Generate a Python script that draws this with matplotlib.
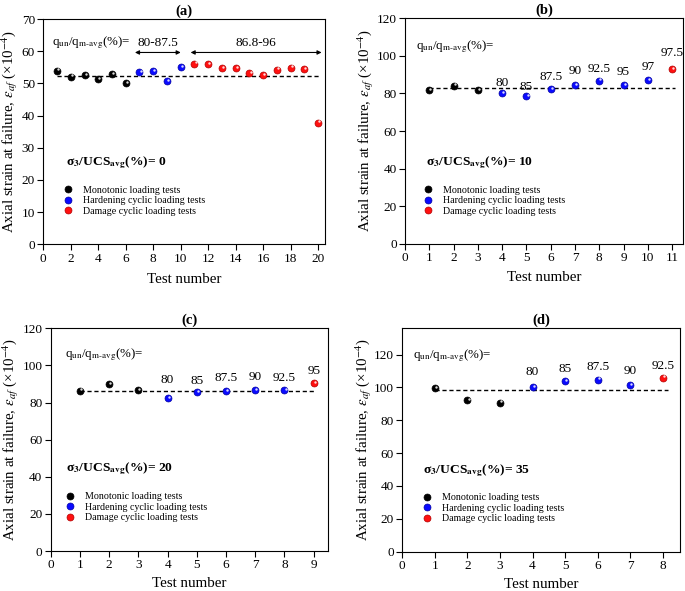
import matplotlib
matplotlib.use("Agg")
import matplotlib.pyplot as plt
from matplotlib.lines import Line2D
import matplotlib.transforms as mtransforms

plt.rcParams['font.family'] = ['Liberation Serif', 'DejaVu Serif']
plt.rcParams['mathtext.fontset'] = 'stix'

# ---------------- data ----------------
# (a) sigma3/UCS = 0
a_x = list(range(1, 21))
a_y = [53.95, 52.1, 52.5, 51.3, 52.9, 50.0, 53.5, 53.7, 50.8, 55.0,
       56.1, 56.0, 54.8, 54.8, 53.1, 52.6, 54.3, 54.9, 54.5, 37.8]
a_type = ['m'] * 6 + ['h'] * 4 + ['d'] * 10
a_mean = 52.3

# (b) sigma3/UCS = 10
b_x = list(range(1, 12))
b_y = [81.8, 84.1, 81.8, 80.2, 78.5, 82.2, 84.5, 86.8, 84.3, 87.0, 92.8]
b_type = ['m'] * 3 + ['h'] * 7 + ['d']
b_mean = 82.8
b_labels = ['80', '85', '87.5', '90', '92.5', '95', '97', '97.5']
b_label_y = [85.4, 83.3, 88.6, 91.8, 92.8, 91.6, 94.3, 101.4]

# (c) sigma3/UCS = 20
c_x = list(range(1, 10))
c_y = [86.4, 89.8, 86.7, 82.3, 85.5, 86.0, 86.6, 86.8, 90.4]
c_type = ['m'] * 3 + ['h'] * 5 + ['d']
c_mean = 86.4
c_labels = ['80', '85', '87.5', '90', '92.5', '95']
c_label_y = [92.1, 91.6, 93.0, 93.9, 93.0, 97.0]

# (d) sigma3/UCS = 35
d_x = list(range(1, 9))
d_y = [99.6, 92.3, 90.7, 100.2, 103.9, 104.7, 101.4, 105.9]
d_type = ['m'] * 3 + ['h'] * 4 + ['d']
d_mean = 98.2
d_labels = ['80', '85', '87.5', '90', '92.5']
d_label_y = [109.3, 111.2, 112.2, 109.8, 112.8]

colors = {'m': '#000000', 'h': '#0a0aff', 'd': '#ff1010'}
edge = {'m': '#000000', 'h': '#0000a0', 'd': '#b00000'}
leg_names = ['Monotonic loading tests', 'Hardening cyclic loading tests',
             'Damage cyclic loading tests']

fig = plt.figure(figsize=(6.85, 5.91), dpi=100)

positions = {
    'a': [43.3 / 685, (591 - 244.3) / 591, (325 - 43.3) / 685, (244.3 - 19) / 591],
    'b': [405 / 685, (591 - 243.7) / 591, (683 - 405) / 685, (243.7 - 18.3) / 591],
    'c': [50.7 / 685, (591 - 551) / 591, (328.3 - 50.7) / 685, (551 - 328.3) / 591],
    'd': [402.3 / 685, (591 - 551.7) / 591, (680 - 402.3) / 685, (551.7 - 328.3) / 591],
}

ylabel = r'Axial strain at failure, $\varepsilon_{af}$ (×10$^{-4}$)'
qtext = r'q$_{\mathrm{un}}$/q$_{\mathrm{m\text{-}avg}}$(%)='

FS_TICK = 9.5
FS_ANN = 9.5
FS_LAB = 10.8


def spheres(ax, xs, ys, types, size=25):
    for t in ['m', 'h', 'd']:
        px = [x for x, tt in zip(xs, types) if tt == t]
        py = [y for y, tt in zip(ys, types) if tt == t]
        if not px:
            continue
        ax.scatter(px, py, s=size, color=colors[t], edgecolors=edge[t],
                   linewidths=0.5, zorder=3)
        off = mtransforms.offset_copy(ax.transData, fig=fig, x=0.8, y=0.9,
                                      units='points')
        ax.scatter(px, py, s=size * 0.12, color='white', alpha=0.85,
                   linewidths=0, zorder=4, transform=off)


def setup(ax, key, xlim, ylim, xticks, yticks, mean, xs, ys, types,
          line_end, sig, qpos, sigpos, legpos, ylab_x, xlab_y):
    spheres(ax, xs, ys, types)
    ax.plot([xs[0], line_end], [mean, mean], ls=(0, (3, 2)), color='black',
            lw=1.0, zorder=2)
    ax.set_xlim(*xlim)
    ax.set_ylim(*ylim)
    ax.set_xticks(xticks)
    ax.set_yticks(yticks)
    ax.tick_params(direction='out', length=4, width=0.8, labelsize=FS_TICK,
                   top=False, right=False, pad=2)
    for s in ax.spines.values():
        s.set_linewidth(0.8)
    ax.set_xlabel('Test number', fontsize=FS_LAB, va='center')
    ax.xaxis.set_label_coords(0.5, xlab_y)
    ax.set_ylabel(ylabel, fontsize=FS_LAB, va='center')
    ax.yaxis.set_label_coords(ylab_x, 0.5)
    ax.set_title('(' + key + ')', fontsize=10.5, fontweight='bold', pad=3)
    ax.text(qpos[0], qpos[1], qtext, transform=ax.transAxes, fontsize=9.3,
            ha='left', va='center')
    ax.text(sigpos[0], sigpos[1],
            r'σ$_{\mathbf{3}}$/UCS$_{\mathbf{avg}}$(%)= ' + sig,
            transform=ax.transAxes, fontsize=9.7, fontweight='bold',
            ha='left', va='center')
    handles = [Line2D([], [], marker='o', ls='none', markersize=5.0,
                      markerfacecolor=colors[t], markeredgecolor=edge[t],
                      markeredgewidth=0.5) for t in ['m', 'h', 'd']]
    ax.legend(handles, leg_names, loc='center left',
              bbox_to_anchor=legpos, frameon=False, fontsize=7.2,
              handletextpad=1.1, labelspacing=0.15, borderpad=0,
              handlelength=0.8, borderaxespad=0)


ax_a = fig.add_axes(positions['a'])
setup(ax_a, 'a', (0, 20.5), (0, 70), range(0, 21, 2), range(0, 71, 10),
      a_mean, a_x, a_y, a_type, 20.1, '0', (0.03, 0.895), (0.079, 0.362),
      (0.0745, 0.1935), -0.118, -0.155)
ax_a.annotate('', xy=(6.67, 59.6), xytext=(10.0, 59.6),
              arrowprops=dict(arrowstyle='<|-|>', color='black', lw=0.8,
                              mutation_scale=6, shrinkA=0, shrinkB=0))
ax_a.annotate('', xy=(10.72, 59.6), xytext=(20.25, 59.6),
              arrowprops=dict(arrowstyle='<|-|>', color='black', lw=0.8,
                              mutation_scale=6, shrinkA=0, shrinkB=0))
ax_a.text(8.35, 62.6, '80-87.5', fontsize=FS_ANN, ha='center', va='center')
ax_a.text(15.45, 62.6, '86.8-96', fontsize=FS_ANN, ha='center', va='center')

ax_b = fig.add_axes(positions['b'])
setup(ax_b, 'b', (0, 11.45), (0, 120), range(0, 12), range(0, 121, 20),
      b_mean, b_x, b_y, b_type, 11.1, '10', (0.04, 0.874), (0.076, 0.358),
      (0.069, 0.191), -0.14, -0.152)
for xv, lab, ly in zip(b_x[3:], b_labels, b_label_y):
    ax_b.text(xv, ly, lab, fontsize=FS_ANN, ha='center', va='center')

ax_c = fig.add_axes(positions['c'])
setup(ax_c, 'c', (0, 9.5), (0, 120), range(0, 10), range(0, 121, 20),
      c_mean, c_x, c_y, c_type, 9.05, '20', (0.05, 0.883), (0.054, 0.368),
      (0.055, 0.196), -0.145, -0.145)
for xv, lab, ly in zip(c_x[3:], c_labels, c_label_y):
    ax_c.text(xv, ly, lab, fontsize=FS_ANN, ha='center', va='center')

ax_d = fig.add_axes(positions['d'])
setup(ax_d, 'd', (0, 8.53), (0, 136), range(0, 9), range(0, 121, 20),
      d_mean, d_x, d_y, d_type, 8.15, '35', (0.037, 0.876), (0.076, 0.363),
      (0.076, 0.194), -0.14, -0.145)
for xv, lab, ly in zip(d_x[3:], d_labels, d_label_y):
    ax_d.text(xv, ly, lab, fontsize=FS_ANN, ha='center', va='center')

fig.savefig('out.png', dpi=100)
